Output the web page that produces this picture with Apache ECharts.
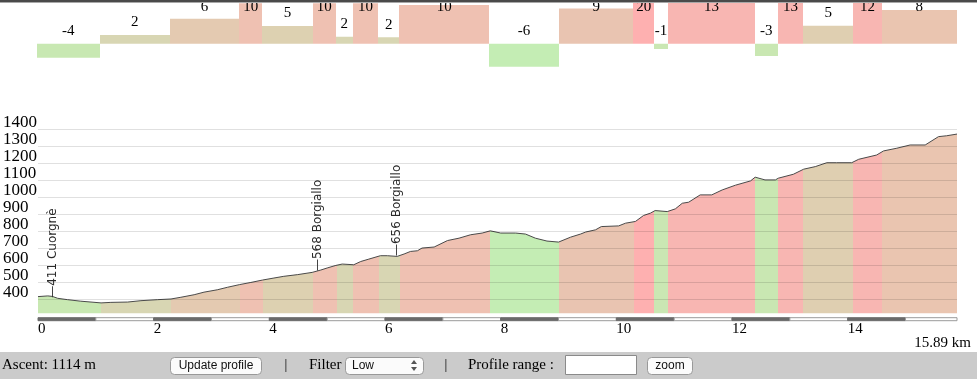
<!DOCTYPE html>
<html><head><meta charset="utf-8">
<script src="https://cdn.jsdelivr.net/npm/echarts@6/dist/echarts.min.js"></script>
<style>html,body{margin:0;padding:0;background:#fff;overflow:hidden}#c{width:977px;height:379px}</style>
</head><body><div id="c"></div>
<script>
// ---------- data ----------
const TOTAL_KM = 15.89;
const ASCENT_M = 1114;
const segStart = [0, 1.083, 2.297, 3.489, 3.891, 4.762, 5.164, 5.453, 5.895, 6.258, 7.807, 9.016, 10.299, 10.657, 10.898, 12.401, 12.793, 13.235, 14.099, 14.590];
const segEnd   = [1.083, 2.297, 3.489, 3.891, 4.762, 5.164, 5.453, 5.895, 6.258, 7.807, 9.016, 10.299, 10.657, 10.898, 12.401, 12.793, 13.235, 14.099, 14.590, 15.89];
const segGrade = [-3.5, 2.17, 6.25, 10.1, 4.42, 10.1, 1.75, 10.1, 1.6, 9.67, -5.75, 8.83, 20, -1.33, 13, -3.08, 13, 4.5, 12, 8.42];
const segLabel = ['-4', '2', '6', '10', '5', '10', '2', '10', '2', '10', '-6', '9', '20', '-1', '13', '-3', '13', '5', '12', '8'];
const segColor = ['#c8e8b2', '#d8d6b3', '#e4cab1', '#efc1b2', '#ddd1b1', '#efc1b2', '#d8d6b3', '#efc1b2', '#d8d6b3', '#efc1b2',
                  '#c4edb4', '#e9c4b1', '#feb0b0', '#cae7b3', '#f8b6b2', '#c9e7b2', '#f8b6b2', '#dfcfb1', '#f8b6b2', '#eac5b0'];

const profileKm = [0.00, 0.17, 0.25, 0.34, 0.51, 0.74, 1.09, 1.26, 1.55, 1.78, 2.07, 2.30, 2.47, 2.70, 2.87, 3.10, 3.28,
  3.48, 3.68, 3.88, 4.08, 4.25, 4.49, 4.74, 4.89, 5.00, 5.15, 5.26, 5.46, 5.58, 5.72, 5.92, 6.04, 6.21, 6.33, 6.44,
  6.56, 6.64, 6.85, 7.08, 7.28, 7.48, 7.68, 7.82, 8.00, 8.26, 8.43, 8.60, 8.80, 9.00, 9.21, 9.38, 9.47,
  9.64, 9.74, 10.04, 10.16, 10.33, 10.47, 10.59, 10.67, 10.88, 11.02, 11.14, 11.25, 11.45, 11.65, 11.83, 12.06, 12.32, 12.40, 12.57, 12.75,
  12.80, 13.06, 13.24, 13.44, 13.64, 13.81, 14.07, 14.19, 14.50, 14.62, 14.85, 15.08, 15.34, 15.57, 15.71, 15.89];
const profileElev = [418, 422, 419, 408, 400, 391, 381, 384, 386, 394, 400, 404, 414, 429, 444, 458, 473,
  488, 501, 515, 527, 537, 547, 560, 574, 586, 601, 609, 605, 624, 638, 658, 658, 654, 668, 683,
  687, 703, 709, 747, 761, 781, 791, 804, 791, 791, 785, 761, 744, 738, 767, 785, 797,
  810, 829, 833, 849, 859, 894, 908, 923, 917, 933, 966, 972, 1015, 1015, 1044, 1072, 1097, 1119, 1103, 1103,
  1113, 1136, 1166, 1181, 1204, 1204, 1204, 1224, 1249, 1273, 1289, 1308, 1308, 1357, 1362, 1372];

const placeKm = [0.25, 4.84, 6.21];
const placeElev = [411, 568, 656];
const placeName = ['Cuorgnè', 'Borgiallo', 'Borgiallo'];

const scaleKm = [0, 1, 2, 3, 4, 5, 6, 7, 8, 9, 10, 11, 12, 13, 14, 15];

// ---------- chart ----------
const SERIF = '"Liberation Serif", "DejaVu Serif", serif';
const SANS = '"Liberation Sans", Arial, sans-serif';
const chart = echarts.init(document.getElementById('c'), null, {renderer: 'canvas'});

const segData = segStart.map((s, i) => [s, segEnd[i], segGrade[i]]);
const profileData = profileKm.map((k, i) => [k, profileElev[i]]);
const placeData = placeKm.map((k, i) => [k, placeElev[i]]);
const pieces = segStart.map((s, i) => (i === segStart.length - 1
  ? {gte: s, lte: segEnd[i] + 1, color: segColor[i]}
  : {gte: s, lt: segEnd[i], color: segColor[i]}));

const option = {
  animation: false,
  backgroundColor: '#fff',
  grid: [
    {left: 37, right: 20, top: 3, height: 68.7},
    {left: 37, right: 20, top: 129.3, height: 187.4}
  ],
  xAxis: [
    {gridIndex: 0, type: 'value', min: 0, max: TOTAL_KM, show: false},
    {gridIndex: 1, type: 'value', min: 0, max: TOTAL_KM, interval: 2,
     axisLine: {show: false}, axisTick: {show: false}, splitLine: {show: false},
     axisLabel: {align: 'left', margin: 5, color: '#000', fontFamily: SERIF, fontSize: 15,
       formatter: v => (Number.isInteger(v) ? String(v) : '')}}
  ],
  yAxis: [
    {gridIndex: 0, type: 'value', min: -7, max: 10.175, show: false},
    {gridIndex: 1, type: 'value', min: 300, max: 1400, interval: 100, z: 5,
     axisLine: {show: false}, axisTick: {show: false},
     axisLabel: {showMinLabel: false, align: 'left', margin: 35, verticalAlign: 'bottom', lineHeight: 14,
       color: '#000', fontFamily: SERIF, fontSize: 17, formatter: v => String(v)},
     splitLine: {show: true, showMinLine: false, lineStyle: {color: 'rgba(0,0,0,0.12)', width: 1}}}
  ],
  visualMap: {show: false, type: 'piecewise', seriesIndex: 2, dimension: 0, pieces: pieces},
  series: [
    { // gradient bars
      type: 'custom', xAxisIndex: 0, yAxisIndex: 0, clip: true, data: segData,
      encode: {x: [0, 1], y: 2},
      renderItem: (params, api) => {
        const i = params.dataIndex;
        const p0 = api.coord([api.value(0), api.value(2)]);
        const p1 = api.coord([api.value(1), 0]);
        const x0 = Math.round(p0[0]), x1 = Math.round(p1[0]);
        return {type: 'rect', shape: {x: x0, y: Math.min(p0[1], p1[1]), width: x1 - x0, height: Math.abs(p1[1] - p0[1])},
          style: {fill: segColor[i]}};
      }
    },
    { // gradient labels
      type: 'custom', xAxisIndex: 0, yAxisIndex: 0, clip: false, data: segData, z: 3,
      encode: {x: [0, 1], y: 2},
      renderItem: (params, api) => {
        const i = params.dataIndex;
        const p = api.coord([(api.value(0) + api.value(1)) / 2, Math.max(api.value(2), 0)]);
        const y = Math.max(7.5, p[1] - 12.5);
        return {type: 'text', x: p[0], y: y,
          style: {text: segLabel[i], font: '15px ' + SERIF, fill: '#000', align: 'center', verticalAlign: 'middle'}};
      }
    },
    { // elevation profile
      type: 'line', xAxisIndex: 1, yAxisIndex: 1, data: profileData, symbol: 'none', showSymbol: false,
      lineStyle: {color: '#4a4a4a', width: 1}, areaStyle: {opacity: 1, origin: 320}, z: 2
    },
    { // place labels
      type: 'custom', xAxisIndex: 1, yAxisIndex: 1, clip: false, data: placeData, z: 6,
      renderItem: (params, api) => {
        const i = params.dataIndex;
        const p = api.coord([api.value(0), api.value(1)]);
        return {type: 'text', x: p[0], y: p[1], rotation: Math.PI / 2,
          style: {text: '—' + placeElev[i] + ' ' + placeName[i], font: '12px "DejaVu Sans", sans-serif',
            fill: '#2a2a2a', align: 'left', verticalAlign: 'middle'}};
      }
    },
    { // km scale bar
      type: 'custom', xAxisIndex: 1, yAxisIndex: 1, clip: false, data: scaleKm.map(k => [k, 300]), z: 6,
      renderItem: (params, api) => {
        const k = api.value(0);
        const p0 = api.coord([k, 300]);
        const p1 = api.coord([Math.min(k + 1, TOTAL_KM), 300]);
        const even = k % 2 === 0;
        return {type: 'rect', shape: {x: p0[0], y: p0[1] + 1, width: p1[0] - p0[0], height: 3},
          style: even ? {fill: '#6a6a6a', stroke: '#6a6a6a', lineWidth: 1} : {fill: '#fff', stroke: '#9a9a9a', lineWidth: 1}};
      }
    }
  ],
  graphic: {elements: [
    {type: 'rect', z: 100, shape: {x: 0, y: 0, width: 977, height: 2}, style: {fill: '#4a4a4a'}},
    {type: 'rect', z: 100, shape: {x: 0, y: 2, width: 977, height: 1}, style: {fill: '#a8a8a8'}},
    {type: 'text', z: 100, x: 971, y: 343, style: {text: TOTAL_KM + ' km', font: '15px ' + SERIF, fill: '#000', align: 'right', verticalAlign: 'middle'}},
    {type: 'rect', z: 100, shape: {x: 0, y: 352, width: 977, height: 27}, style: {fill: '#cbcbcb'}},
    {type: 'text', z: 101, x: 2, y: 365, style: {text: 'Ascent: ' + ASCENT_M + ' m', font: '15px ' + SERIF, fill: '#000', verticalAlign: 'middle'}},
    {type: 'rect', z: 101, shape: {x: 170.5, y: 357.5, width: 91, height: 17, r: 4}, style: {fill: '#fbfbfb', stroke: '#999', lineWidth: 1}},
    {type: 'text', z: 102, x: 216, y: 366, style: {text: 'Update profile', font: '12px ' + SANS, fill: '#111', align: 'center', verticalAlign: 'middle'}},
    {type: 'text', z: 101, x: 286, y: 365, style: {text: '|', font: '14px ' + SERIF, fill: '#000', align: 'center', verticalAlign: 'middle'}},
    {type: 'text', z: 101, x: 309, y: 365, style: {text: 'Filter', font: '15px ' + SERIF, fill: '#000', verticalAlign: 'middle'}},
    {type: 'rect', z: 101, shape: {x: 345.5, y: 357.5, width: 78, height: 17, r: 4}, style: {fill: '#fbfbfb', stroke: '#999', lineWidth: 1}},
    {type: 'text', z: 102, x: 352, y: 366, style: {text: 'Low', font: '12px ' + SANS, fill: '#111', verticalAlign: 'middle'}},
    {type: 'polygon', z: 102, shape: {points: [[411, 364], [414, 360], [417, 364]]}, style: {fill: '#555'}},
    {type: 'polygon', z: 102, shape: {points: [[411, 367], [414, 371], [417, 367]]}, style: {fill: '#555'}},
    {type: 'text', z: 101, x: 446, y: 365, style: {text: '|', font: '14px ' + SERIF, fill: '#000', align: 'center', verticalAlign: 'middle'}},
    {type: 'text', z: 101, x: 468, y: 365, style: {text: 'Profile range :', font: '15px ' + SERIF, fill: '#000', verticalAlign: 'middle'}},
    {type: 'rect', z: 101, shape: {x: 565.5, y: 355.5, width: 71, height: 19}, style: {fill: '#fff', stroke: '#8a8a8a', lineWidth: 1}},
    {type: 'rect', z: 101, shape: {x: 647.5, y: 357.5, width: 45, height: 17, r: 4}, style: {fill: '#fbfbfb', stroke: '#999', lineWidth: 1}},
    {type: 'text', z: 102, x: 670, y: 366, style: {text: 'zoom', font: '12px ' + SANS, fill: '#111', align: 'center', verticalAlign: 'middle'}}
  ]}
};
chart.setOption(option);
</script></body></html>
